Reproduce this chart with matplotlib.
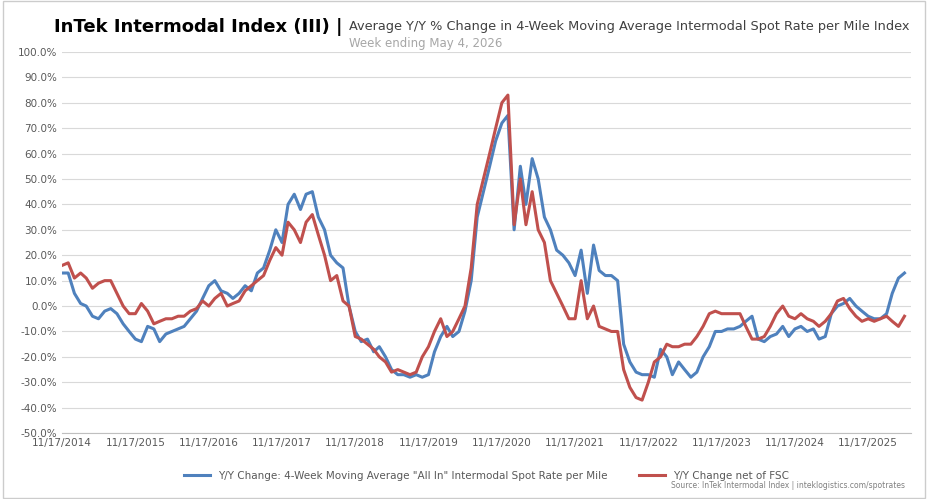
import matplotlib
matplotlib.use("Agg")
import matplotlib.pyplot as plt
import pandas as pd
from matplotlib.ticker import FuncFormatter, MultipleLocator

blue = [13,13,5,1,0,-4,-5,-2,-1,-3,-7,-10,
        -13,-14,-8,-9,-14,-11,-10,-9,-8,-5,-2,3,
        8,10,6,5,3,5,8,6,13,15,22,30,
        25,40,44,38,44,45,35,30,20,17,15,0,
        -10,-14,-13,-18,-16,-20,-25,-27,-27,-28,-27,-28,
        -27,-18,-12,-8,-12,-10,-2,10,35,45,55,65,
        72,75,30,55,40,58,50,35,30,22,20,17,
        12,22,5,24,14,12,12,10,-15,-22,-26,-27,
        -27,-28,-17,-20,-27,-22,-25,-28,-26,-20,-16,-10,
        -10,-9,-9,-8,-6,-4,-13,-14,-12,-11,-8,-12,
        -9,-8,-10,-9,-13,-12,-3,0,1,3,0,-2,
        -4,-5,-5,-3,5,11,13]
red = [16,17,11,13,11,7,9,10,10,5,0,-3,
       -3,1,-2,-7,-6,-5,-5,-4,-4,-2,-1,2,
       0,3,5,0,1,2,6,8,10,12,18,23,
       20,33,30,25,33,36,28,20,10,12,2,0,
       -12,-13,-15,-17,-20,-22,-26,-25,-26,-27,-26,-20,
       -16,-10,-5,-12,-10,-5,0,15,40,50,60,70,
       80,83,32,50,32,45,30,25,10,5,0,-5,
       -5,10,-5,0,-8,-9,-10,-10,-25,-32,-36,-37,
       -30,-22,-20,-15,-16,-16,-15,-15,-12,-8,-3,-2,
       -3,-3,-3,-3,-8,-13,-13,-12,-8,-3,0,-4,
       -5,-3,-5,-6,-8,-6,-3,2,3,-1,-4,-6,
       -5,-6,-5,-4,-6,-8,-4]
dates = pd.date_range("2014-11-17", periods=len(blue), freq=pd.DateOffset(months=1))
tick_dates = pd.date_range("2014-11-17", periods=12, freq=pd.DateOffset(years=1))
tick_labels = [d.strftime("%m/%d/%Y") for d in tick_dates]

fig = plt.figure(figsize=(9.28, 4.99), dpi=100)
fig.patches.append(plt.Rectangle((0.003, 0.003), 0.994, 0.994, transform=fig.transFigure,
                                 fill=False, edgecolor="#cccccc", lw=1))
ax = fig.add_axes([0.067, 0.132, 0.915, 0.764])
ax.plot(dates, blue, color="#4f81bd", lw=2.2,
        label='Y/Y Change: 4-Week Moving Average "All In" Intermodal Spot Rate per Mile')
ax.plot(dates, red, color="#c0504d", lw=2.2, label="Y/Y Change net of FSC")
ax.set_ylim(-50, 100)
ax.yaxis.set_major_locator(MultipleLocator(10))
ax.yaxis.set_major_formatter(FuncFormatter(lambda v, p: f"{v:.1f}%"))
ax.set_xlim(pd.Timestamp("2014-11-17"), pd.Timestamp("2026-06-20"))
ax.set_xticks(tick_dates)
ax.set_xticklabels(tick_labels)
ax.tick_params(labelsize=7.5, colors="#595959", length=0)
ax.grid(axis="y", color="#d9d9d9", lw=0.8)
for s in ["top", "right", "left"]:
    ax.spines[s].set_visible(False)
ax.spines["bottom"].set_color("#bfbfbf")
ax.legend(loc="upper center", bbox_to_anchor=(0.5, -0.075), ncol=2, frameon=False,
          fontsize=7.5, labelcolor="#595959", columnspacing=3, handlelength=2.5)
fig.text(0.058, 0.935, "InTek Intermodal Index (III) |", fontsize=13, fontweight="bold", color="black")
fig.text(0.376, 0.94, "Average Y/Y % Change in 4-Week Moving Average Intermodal Spot Rate per Mile Index",
         fontsize=9.3, color="#404040")
fig.text(0.376, 0.905, "Week ending May 4, 2026", fontsize=8.5, color="#a6a6a6")
fig.text(0.975, 0.022, "Source: InTek Intermodal Index | inteklogistics.com/spotrates",
         fontsize=5.5, color="#808080", ha="right")
fig.savefig("out.png", dpi=100)
